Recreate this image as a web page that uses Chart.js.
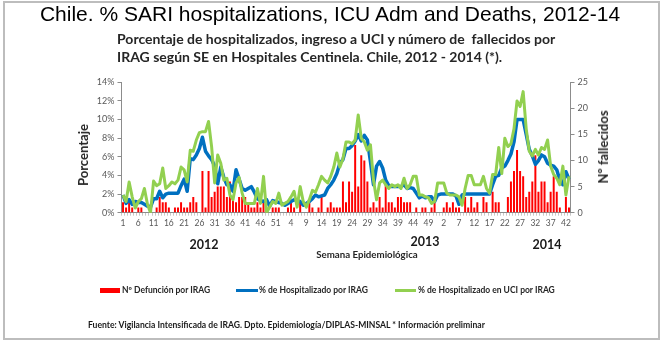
<!DOCTYPE html>
<html lang="es">
<head>
<meta charset="utf-8">
<title>IRAG Chile 2012-2014</title>
<script src="https://cdn.jsdelivr.net/npm/chart.js@4.4.1/dist/chart.umd.min.js"></script>
<style>
  body { margin: 0; width: 660px; height: 341px; position: relative; background: #fff; overflow: hidden; font-family: Lato, "Open Sans", sans-serif; }
  .abs { position: absolute; white-space: nowrap; }
  #marco { position: absolute; left: 3px; top: 1px; width: 653px; height: 335px; border: 2px solid #bdbdbd; }
  #titulo { left: 0; width: 660px; top: 2px; text-align: center; font: 21px/24px "Liberation Sans", Arial, sans-serif; color: #000; }
  #subtitulo { left: 117px; top: 30px; font-weight: 700; font-size: 14px; line-height: 18px; color: #262626; }
  .rot { transform: translate(-50%, -50%) rotate(-90deg); font-weight: 700; font-size: 13px; color: #262626; }
  .anio { transform: translate(-50%, -50%); font-weight: 700; font-size: 12.5px; color: #1a1a1a; }
  #eje-x { transform: translate(-50%, -50%); font-weight: 700; font-size: 9.7px; color: #262626; }
  .leyenda { top: 284px; font-weight: 700; font-size: 8.5px; line-height: 12px; color: #262626; }
  .marca { position: absolute; }
  #fuente { left: 88px; top: 319px; font-weight: 700; font-size: 8.6px; line-height: 12px; color: #1a1a1a; }
  canvas { position: absolute; left: 0; top: 0; }
</style>
</head>
<body>
<div id="marco"></div>
<canvas id="grafico-irag" width="660" height="341"></canvas>
<div id="titulo" class="abs">Chile. % SARI hospitalizations, ICU Adm and Deaths, 2012-14</div>
<div id="subtitulo" class="abs">Porcentaje de hospitalizados, ingreso a UCI y número de&nbsp; fallecidos por<br>IRAG según SE en Hospitales Centinela. Chile, 2012 - 2014 (*).</div>
<div class="abs rot" style="left:83px; top:155px;">Porcentaje</div>
<div class="abs rot" style="left:603px; top:147px;">Nº fallecidos</div>
<div class="abs anio" style="left:204px; top:244px;">2012</div>
<div class="abs anio" style="left:425px; top:241px;">2013</div>
<div class="abs anio" style="left:547px; top:244px;">2014</div>
<div id="eje-x" class="abs" style="left:367px; top:254px;">Semana Epidemiológica</div>

<div class="abs leyenda" style="left:100px;"><span class="marca" style="left:0; top:4px; width:20px; height:5px; background:#ff0000;"></span><span style="margin-left:22px;">Nº Defunción por IRAG</span></div>
<div class="abs leyenda" style="left:236px;"><span class="marca" style="left:0; top:5px; width:22px; height:3px; background:#0070c0;"></span><span style="margin-left:23px;">% de Hospitalizado por IRAG</span></div>
<div class="abs leyenda" style="left:395px;"><span class="marca" style="left:0; top:5px; width:21px; height:3px; background:#92d050;"></span><span style="margin-left:23px;">% de Hospitalizado en UCI por IRAG</span></div>

<div id="fuente" class="abs">Fuente: Vigilancia Intensificada de IRAG. Dpto. Epidemiología/DIPLAS-MINSAL * Información preliminar</div>

<script>
// semanas epidemiológicas por año (2014 llega hasta la SE 43)
const semanasPorAnio = [52, 52, 43];

// Nº de defunciones por IRAG
const defunciones2012 = [2, 1, 2, 1, 0, 1, 1, 0, 0, 1, 0, 1, 3, 2, 2, 1, 0, 1, 1, 2, 1, 1, 2, 3, 2, 0,
  8, 1, 8, 3, 4, 5, 5, 5, 3, 6, 3, 2, 3, 3, 3, 2, 1, 1, 2, 1, 2, 1, 0, 1, 1, 1];
const defunciones2013 = [0, 0, 1, 2, 1, 0, 2, 0, 0, 2, 1, 0, 1, 3, 0, 1, 2, 1, 1, 1, 6, 2, 6, 4, 13, 5,
  11, 10, 6, 1, 2, 1, 3, 1, 6, 2, 2, 1, 3, 3, 2, 2, 2, 0, 1, 0, 1, 1, 0, 1, 2, 0];
const defunciones2014 = [0, 1, 2, 1, 2, 1, 1, 0, 3, 1, 3, 1, 2, 0, 3, 2, 0, 4, 2, 2, 0, 0,
  3, 6, 8, 12, 8, 7, 3, 4, 6, 11, 4, 6, 6, 2, 4, 7, 4, 1, 0, 3, 1];

// % de hospitalizados por IRAG
const hosp2012 = [1.9, 1.0, 1.4, 0.9, 1.2, 1.1, 1.1, 0.9, 0.7, 0.6, 1.5, 1.5, 2.3, 1.6, 2.0, 2.1, 2.1, 2.1, 2.1, 2.9,
  3.6, 2.3, 5.8, 5.7, 6.2, 6.9, 8.1, 6.6, 6.1, 5.7, 5.0, 3.1, 4.9, 3.8, 3.0, 3.0, 2.3, 4.6, 3.6, 2.6,
  2.4, 2.6, 2.8, 2.2, 1.5, 1.3, 1.2, 1.4, 0.7, 1.3, 1.2, 1.1];
const hosp2013 = [1.0, 0.8, 1.0, 1.2, 1.4, 1.3, 1.2, 0.8, 1.0, 1.2, 1.5, 1.9, 1.7, 1.8, 1.9, 2.6, 3.0, 3.5, 4.2, 5.3,
  5.7, 6.9, 6.9, 7.2, 7.7, 8.4, 7.7, 8.3, 7.8, 5.5, 3.0, 5.0, 5.5, 4.8, 3.5, 2.9, 2.8, 2.8, 2.8, 2.8,
  3.0, 2.6, 2.7, 2.6, 2.1, 1.6, 1.8, 1.6, 1.7, 1.7, 1.2, 1.9];
const hosp2014 = [2.0, 2.0, 2.0, 2.0, 2.0, 1.8, 0.9, 1.9, 2.0, 2.0, 2.0, 2.0, 2.0, 2.0, 2.0, 2.0, 2.0, 3.0, 3.9, 4.0,
  4.8, 5.0, 5.6, 6.3, 7.6, 10.0, 10.0, 10.0, 8.4, 6.8, 6.1, 5.2, 5.6, 6.2, 6.0, 5.3, 5.1, 5.0, 4.6, 3.5,
  3.0, 4.4, 3.6];

// % de hospitalizados en UCI por IRAG
const uci2012 = [1.9, 1.2, 3.3, 1.7, 0.5, 1.2, 1.5, 2.6, 0.9, 0.0, 3.4, 2.9, 3.1, 4.8, 2.6, 2.9, 3.3, 3.1, 3.5, 4.9,
  4.6, 3.3, 6.7, 6.6, 7.8, 8.6, 8.7, 8.7, 9.8, 7.1, 3.2, 6.2, 5.3, 3.5, 3.7, 1.9, 1.4, 3.2, 3.8, 2.1,
  1.0, 1.0, 1.0, 1.0, 2.6, 1.0, 3.9, 0.0, 0.6, 1.2, 1.0, 2.1];
const uci2013 = [0.8, 1.0, 1.2, 1.7, 2.3, 0.6, 2.8, 1.2, 0.6, 1.4, 2.4, 2.2, 3.0, 3.9, 3.5, 3.2, 3.9, 4.9, 6.4, 4.9,
  5.8, 7.6, 7.6, 7.4, 7.8, 10.5, 8.0, 7.6, 6.7, 7.3, 3.5, 1.4, 3.2, 3.5, 3.0, 2.6, 3.0, 2.8, 3.0, 2.6,
  3.7, 2.6, 3.0, 3.9, 3.9, 1.9, 1.9, 1.7, 1.6, 1.0, 1.2, 3.2];
const uci2014 = [3.2, 3.2, 2.1, 1.9, 1.9, 1.9, 1.7, 0.8, 2.6, 4.0, 4.0, 3.0, 3.0, 3.0, 3.9, 2.6, 2.1, 4.1, 4.1, 7.0,
  4.2, 8.0, 7.1, 7.4, 9.0, 12.0, 11.4, 13.0, 9.0, 6.6, 6.1, 6.8, 6.2, 7.0, 6.8, 7.8, 5.0, 4.1, 3.7, 3.0,
  5.0, 1.9, 3.9];

// ejes
const ticksPorcentaje = [0, 2, 4, 6, 8, 10, 12, 14];
const ticksFallecidos = [0, 5, 10, 15, 20, 25];

const semanas = [];
semanasPorAnio.forEach(function (n) {
  for (let s = 1; s <= n; s++) semanas.push(String(s));
});
const defunciones = defunciones2012.concat(defunciones2013, defunciones2014);
const hospitalizados = hosp2012.concat(hosp2013, hosp2014);
const hospUci = uci2012.concat(uci2013, uci2014);

const colorTicks = '#595959';
const colorEje = '#8c8c8c';

const ctx = document.getElementById('grafico-irag').getContext('2d');
new Chart(ctx, {
  type: 'bar',
  data: {
    labels: semanas,
    datasets: [
      {
        type: 'line',
        label: '% de Hospitalizado en UCI por IRAG',
        data: hospUci,
        yAxisID: 'y',
        borderColor: '#92d050',
        borderWidth: 3,
        pointRadius: 0,
        tension: 0,
        borderJoinStyle: 'round',
        order: 0
      },
      {
        type: 'line',
        label: '% de Hospitalizado por IRAG',
        data: hospitalizados,
        yAxisID: 'y',
        borderColor: '#0070c0',
        borderWidth: 3.5,
        pointRadius: 0,
        tension: 0,
        borderJoinStyle: 'round',
        order: 1
      },
      {
        type: 'bar',
        label: 'Nº Defunción por IRAG',
        data: defunciones,
        yAxisID: 'y1',
        backgroundColor: '#ff0000',
        barPercentage: 0.65,
        categoryPercentage: 1,
        order: 2
      }
    ]
  },
  options: {
    responsive: false,
    animation: false,
    devicePixelRatio: 1,
    layout: { padding: { left: 81.5, right: 59.5, top: 82.3, bottom: 108.3 } },
    plugins: {
      legend: { display: false },
      tooltip: { enabled: false }
    },
    scales: {
      x: {
        grid: { drawOnChartArea: false, drawTicks: true, tickLength: 3, color: '#c8c8c8' },
        border: { color: colorEje },
        ticks: {
          autoSkip: false,
          maxRotation: 0,
          minRotation: 0,
          padding: 2,
          color: colorTicks,
          font: { family: 'Lato', size: 8.5 },
          callback: function (v, i) { return i % 5 === 0 ? semanas[i] : ''; }
        },
        afterFit: function (s) { s.height = 20; }
      },
      y: {
        position: 'left',
        min: 0,
        max: 14,
        grid: { drawOnChartArea: false, tickLength: 4, color: colorEje },
        border: { color: colorEje },
        afterBuildTicks: function (s) { s.ticks = ticksPorcentaje.map(v => ({ value: v })); },
        ticks: {
          padding: 3,
          color: colorTicks,
          font: { family: 'Lato', size: 9 },
          callback: function (v) { return v + '%'; }
        },
        afterFit: function (s) { s.width = 40; }
      },
      y1: {
        position: 'right',
        min: 0,
        max: 25,
        grid: { drawOnChartArea: false, tickLength: 4, color: colorEje },
        border: { color: colorEje },
        afterBuildTicks: function (s) { s.ticks = ticksFallecidos.map(v => ({ value: v })); },
        ticks: {
          padding: 3,
          color: colorTicks,
          font: { family: 'Lato', size: 9 }
        },
        afterFit: function (s) { s.width = 30; }
      }
    }
  }
});
</script>
</body>
</html>
